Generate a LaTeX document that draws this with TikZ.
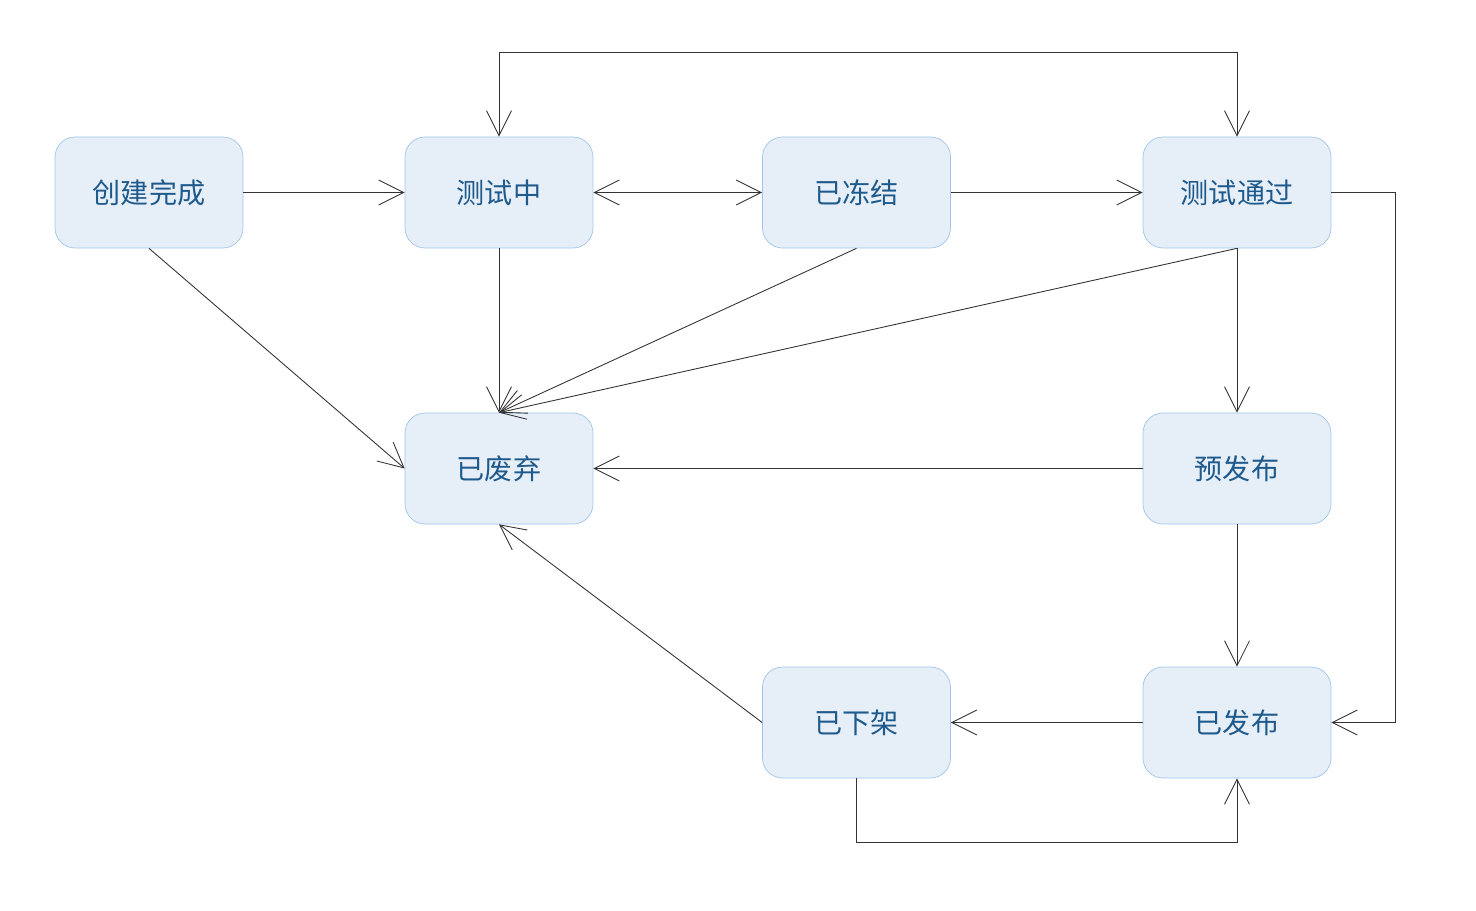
\documentclass[tikz,border=0pt]{standalone}
\usepackage{fontspec}
\setmainfont{Noto Sans CJK SC}
\usepackage{tikz}
\definecolor{statefill}{RGB}{230,238,248}
\definecolor{stateline}{RGB}{160,196,236}
\definecolor{statetext}{RGB}{30,90,140}
\usetikzlibrary{
	arrows.meta,
	positioning
}
\tikzset{
	>={Straight Barb[length=0.5cm, width=0.5cm]},
	statenode/.style={draw=stateline, fill=statefill, text=statetext, rounded corners=0.4cm,
		minimum width=3.76cm, minimum height=2.22cm, inner sep=0pt,
		font=\fontsize{16}{19}\selectfont},
	flow/.style={->, line width=0.5pt, black!80},
	twoway/.style={<->, line width=0.5pt, black!80}
}

\begin{document}
\begin{tikzpicture}[x=0.02cm, y=-0.02cm]
	\useasboundingbox (0,0) rectangle (1476,910);
	\foreach \name/\x/\y/\txt in {created/149/192.5/创建完成, testing/499/192.5/测试中,
		frozen/856.5/192.5/已冻结, passed/1237/192.5/测试通过,
		discarded/499/468.5/已废弃, prerelease/1237/468.5/预发布,
		offline/856.5/722.5/已下架, released/1237/722.5/已发布} {
		\node[statenode] (\name) at (\x,\y) {\txt};
	}
	\coordinate (top) at (0,52);
	\draw[flow] (created) -- (testing);
	\draw[twoway] (testing) -- (frozen);
	\draw[flow] (frozen) -- (passed);
	\draw[twoway] (testing.north) -- (testing.north |- top) -| (passed.north);
	\draw[flow] (passed.east) -- ++(64,0) |- (released.east);
	\draw[flow] (created.south) -- (discarded.west);
	\draw[flow] (testing) -- (discarded);
	\draw[flow] (frozen.south) -- (discarded.north);
	\draw[flow] (passed.south) -- (discarded.north);
	\draw[flow] (passed) -- (prerelease);
	\draw[flow] (prerelease) -- (discarded);
	\draw[flow] (prerelease) -- (released);
	\draw[flow] (released) -- (offline);
	\draw[flow] (offline.west) -- (discarded.south);
	\draw[flow] (offline.south) -- ++(0,64) -| (released.south);
\end{tikzpicture}
\end{document}
